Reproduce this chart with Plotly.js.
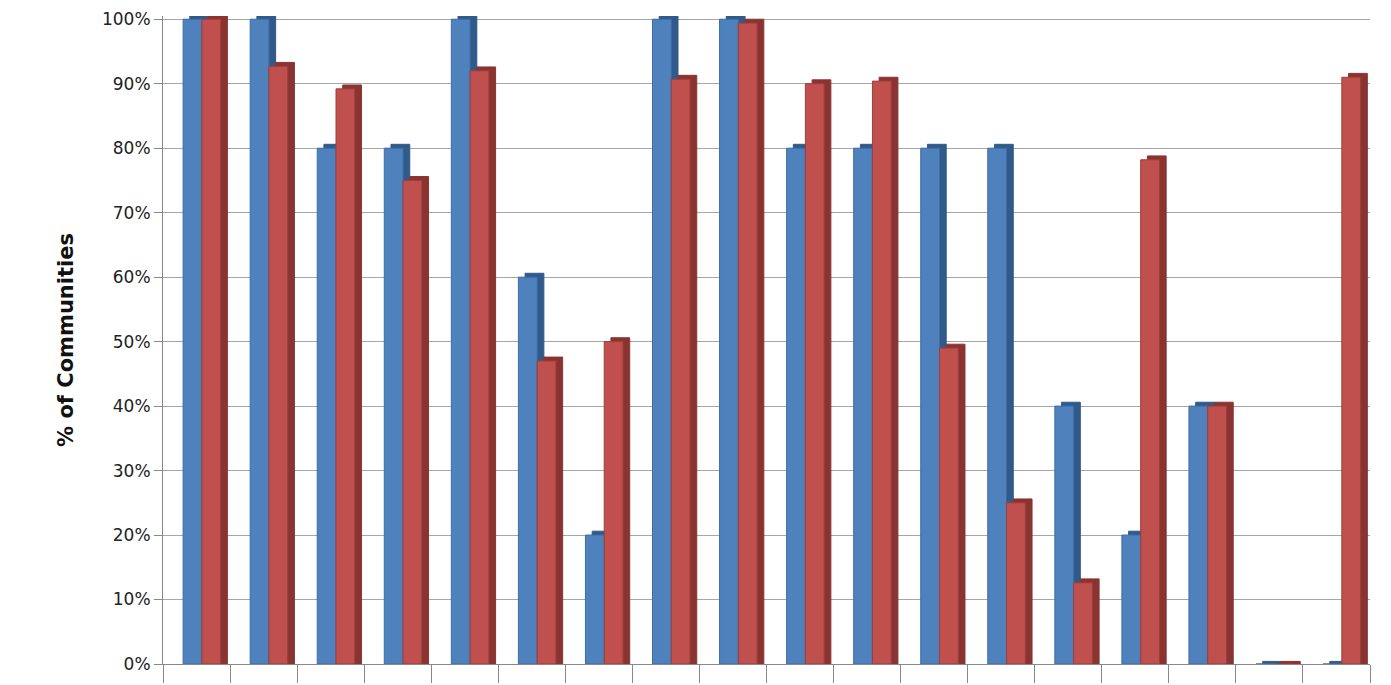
<!DOCTYPE html>
<html>
<head>
<meta charset="utf-8">
<script src="https://cdn.plot.ly/plotly-3.0.1.min.js"></script>
<style>body{margin:0;background:#fff}#chart{width:1391px;height:685px}</style>
</head>
<body>
<div id="chart"></div>
<script>
// one entry per community group (no labels shown in the original)
const categories = [0, 1, 2, 3, 4, 5, 6, 7, 8, 9, 10, 11, 12, 13, 14, 15, 16, 17];
const seriesBlue = [100, 100, 80, 80, 100, 60, 20, 100, 100, 80, 80, 80, 80, 40, 20, 40, 0, 0];
const seriesRed = [100, 92.7, 89.2, 75, 92, 47, 50, 90.7, 99.4, 90, 90.4, 49, 25, 12.6, 78.2, 40, 0, 91];
const yTicks = [0, 10, 20, 30, 40, 50, 60, 70, 80, 90, 100];

const W = 0.28;
function bar(y, color, offset, width, line) {
    return {
        x: categories, y: y, type: 'bar', offset: offset, width: width,
        marker: { color: color, line: { color: line, width: 1 } },
        hoverinfo: 'skip', showlegend: false
    };
}
const lift = v => v.map(d => d > 0 ? d + 0.6 : 0.4);

const traces = [
    bar(lift(seriesBlue), '#2f5a8a', -0.2 + 0.1, W, '#2f5a8a'),
    bar(seriesBlue, '#4f81bd', -0.2, W, '#3d6da6'),
    bar(lift(seriesRed), '#8a3431', 0.08 + 0.1, W, '#8a3431'),
    bar(seriesRed, '#c0504d', 0.08, W, '#9c3e3b')
];

const tickEdges = categories.map(c => c - 0.5).concat([17.5]);

Plotly.newPlot('chart', traces, {
    width: 1391, height: 685,
    margin: { l: 163, r: 21, t: 16, b: 21 },
    paper_bgcolor: '#fff', plot_bgcolor: '#fff',
    barmode: 'overlay',
    xaxis: {
        range: [-0.5, 17.5], tickvals: tickEdges, ticks: 'outside', ticklen: 18,
        tickcolor: '#888', showticklabels: false, showgrid: false, zeroline: false,
        showline: true, linecolor: '#888'
    },
    yaxis: {
        range: [0, 100.5], tickvals: yTicks, ticktext: yTicks.map(v => v + '%'),
        ticks: 'outside', ticklen: 8, tickcolor: '#888',
        showline: true, linecolor: '#888', gridcolor: '#a6a6a6', zeroline: false,
        tickfont: { family: 'DejaVu Sans', size: 17, color: '#222' },
        title: { text: '<b>% of Communities</b>', standoff: 22,
                 font: { family: 'DejaVu Sans', size: 21, color: '#111' } }
    },
    font: { family: 'DejaVu Sans' }
}, { staticPlot: true });
</script>
</body>
</html>
